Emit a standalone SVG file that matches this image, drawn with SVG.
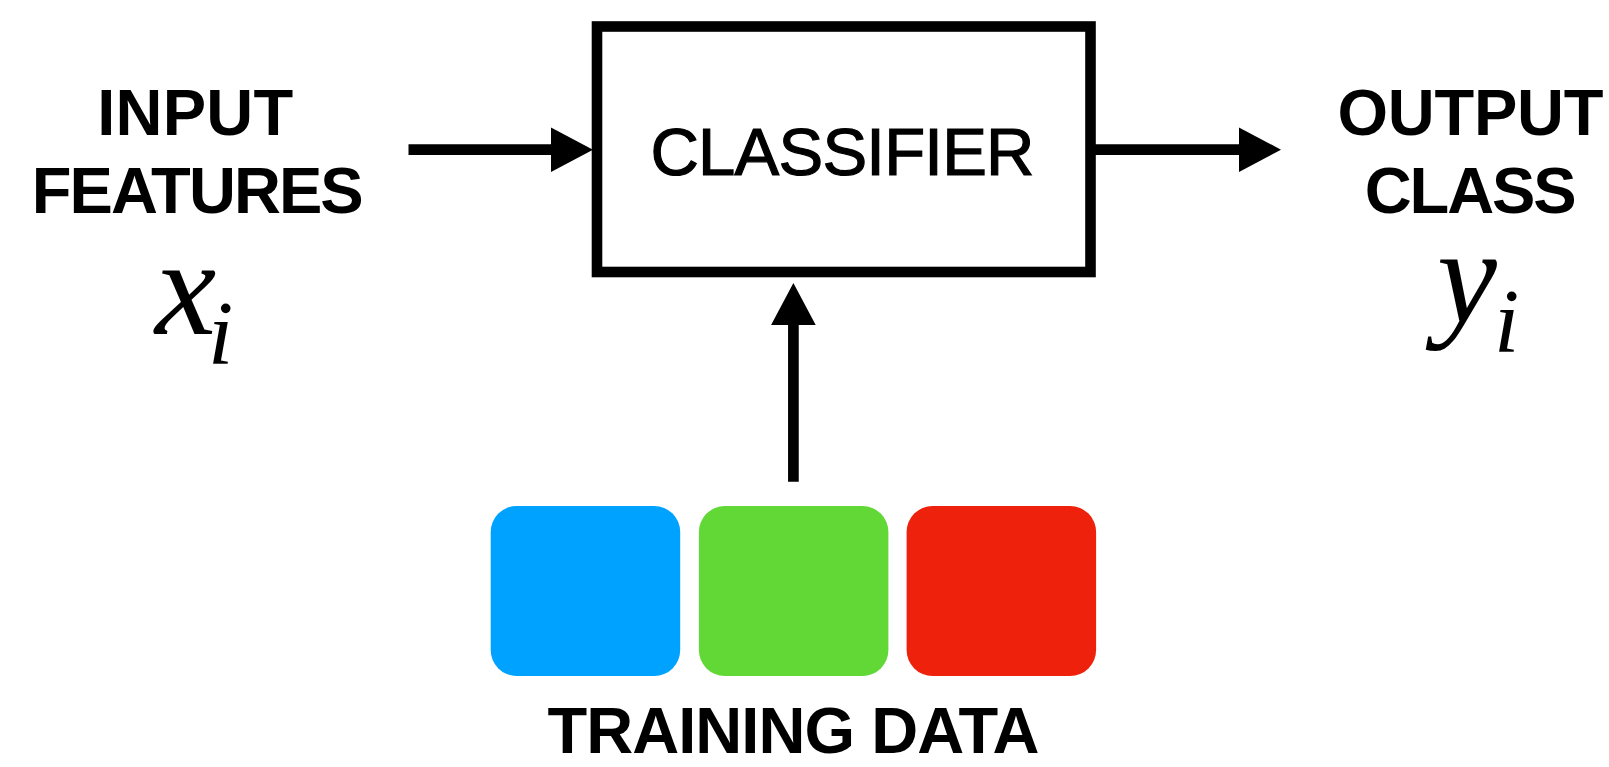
<svg xmlns="http://www.w3.org/2000/svg" width="1609" height="767" viewBox="0 0 1609 767">
  <style>
    .lbl { font-family: "Liberation Sans", Arial, Helvetica, sans-serif; font-weight: bold; font-size: 65px; fill: #000; text-anchor: middle; }
    .cls { font-family: "Liberation Sans", Arial, Helvetica, sans-serif; font-size: 67px; fill: #000; stroke: #000; stroke-width: 1.2; text-anchor: middle; }
    .math { font-family: "Liberation Serif", "Times New Roman", serif; font-style: italic; fill: #000; }
    .conn { stroke: #000; stroke-width: 10.7; fill: none; marker-end: url(#head); }
  </style>
  <defs>
    <marker id="head" markerUnits="userSpaceOnUse" markerWidth="44" markerHeight="46" refX="1" refY="22.3" orient="auto">
      <path d="M0,0 L42,22.3 L0,44.6 Z" fill="#000"/>
    </marker>
  </defs>
  <rect width="1609" height="767" fill="#fff"/>

  <g id="connectors">
    <line class="conn" x1="408.5" y1="149.7" x2="552" y2="149.7"/>
    <line class="conn" x1="1090" y1="149.7" x2="1240" y2="149.7"/>
    <line class="conn" x1="793.4" y1="481.7" x2="793.4" y2="324"/>
  </g>

  <g id="input-features">
    <text class="lbl" x="195.2" y="134.5" textLength="196" lengthAdjust="spacing">INPUT</text>
    <text class="lbl" x="197.7" y="212.5" textLength="332" lengthAdjust="spacing">FEATURES</text>
    <text class="math" x="155" y="334" font-size="138">x<tspan x="208" y="364" font-size="91">i</tspan></text>
  </g>

  <g id="classifier">
    <rect x="597" y="26.5" width="493.5" height="245.5" fill="#fff" stroke="#000" stroke-width="10.6"/>
    <text class="cls" x="842.5" y="175" textLength="384" lengthAdjust="spacing">CLASSIFIER</text>
  </g>

  <g id="output-class">
    <text class="lbl" x="1470.5" y="134.5" textLength="266" lengthAdjust="spacing">OUTPUT</text>
    <text class="lbl" x="1470.7" y="212.5" textLength="212" lengthAdjust="spacing">CLASS</text>
    <text class="math" x="1437" y="322" font-size="135">y<tspan x="1494" y="352" font-size="91">i</tspan></text>
  </g>

  <g id="training-data">
    <rect x="490.7" y="506" width="189.5" height="170" rx="26" ry="26" fill="#00A2FF"/>
    <rect x="698.9" y="506" width="189.5" height="170" rx="26" ry="26" fill="#61D836"/>
    <rect x="906.6" y="506" width="189.5" height="170" rx="26" ry="26" fill="#EE220C"/>
    <text class="lbl" x="793.4" y="752.5" textLength="492" lengthAdjust="spacing">TRAINING DATA</text>
  </g>
</svg>
